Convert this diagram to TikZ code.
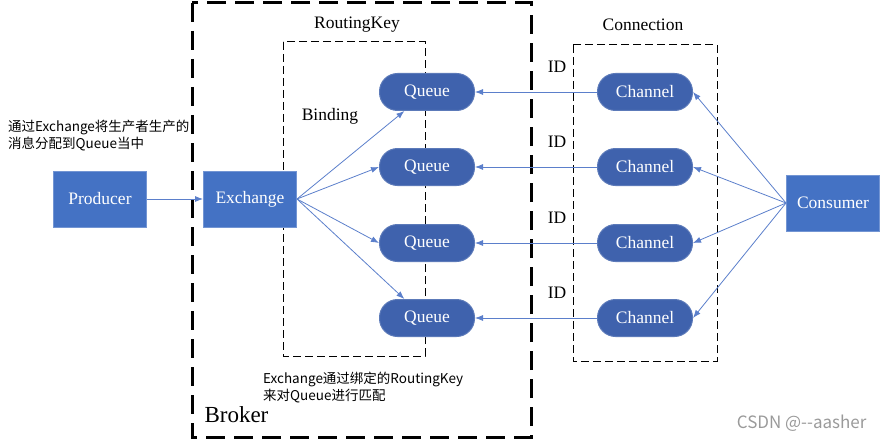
\documentclass[tikz,border=0pt]{standalone}
\usepackage{fontspec}
\setmainfont{Liberation Serif}
\newfontfamily\cjkfont{Noto Sans CJK SC}
\usetikzlibrary{arrows.meta}
\usetikzlibrary{positioning}
\definecolor{boxblue}{HTML}{4472C4}
\definecolor{pillblue}{HTML}{3F62AD}
\definecolor{lineblue}{HTML}{5B7FCB}
\definecolor{markgray}{HTML}{9A9A9A}

\begin{document}
\begin{tikzpicture}[
	x=1pt, y=-1pt,
  > = {Latex[length=8pt,width=6pt]},
  box/.style = {draw=boxblue!75!white,fill=boxblue,text=white,line width=1pt,minimum width=93pt,minimum height=56pt,font=\fontsize{17.5}{18}\selectfont},
  pill/.style = {draw=pillblue!85!white,fill=pillblue,text=white,line width=1pt,rounded corners=18pt,minimum width=95pt,minimum height=37pt,font=\fontsize{17.5}{18}\selectfont},
  tag/.style = {font=\fontsize{17.5}{18}\selectfont},
  note/.style = {font=\cjkfont\fontsize{13.5}{17}\selectfont,align=left,inner sep=0pt},
  link/.style = {draw=lineblue,line width=0.8pt,->},
  brokerbox/.style = {line width=3pt,dash pattern=on 19pt off 9pt},
  groupbox/.style = {line width=1pt,dash pattern=on 8pt off 4pt}
  ]
	\useasboundingbox (0,0) rectangle (883,441);

	\draw[brokerbox] (192,3) rectangle (531,437);
	\draw[groupbox] (283,42) rectangle (425,356);
	\draw[groupbox] (573,45) rectangle (717,361);

	\node[tag] (routingkey) at (357,25) {RoutingKey};
	\node[tag] (connection) at (643,25) {Connection};
	\node[tag] (binding)    at (330,116) {Binding};
	\node[anchor=west,font=\fontsize{23}{24}\selectfont] (broker) at (201,415) {Broker};

	\node[note,anchor=north west] (prodnote) at (8,120) {通过Exchange将生产者生产的\\消息分配到Queue当中};
	\node[note,anchor=north west] (bindnote) at (263,372) {Exchange通过绑定的RoutingKey\\来对Queue进行匹配};
	\node[anchor=east,text=markgray,font=\cjkfont\fontsize{17}{18}\selectfont] (mark) at (870,423) {CSDN @--aasher};

	\node[box] (producer) at (100,199) {Producer};
	\node[box] (exchange) at (250,199) {Exchange};
	\node[box] (consumer) at (833,203) {Consumer};

	\foreach \y [count=\i] in {92,167,243,318} {
		\node[pill] (q\i)  at (427,\y) {Queue};
		\node[pill] (ch\i) at (645,\y) {Channel};
		\node[tag]  (id\i) at (557,\y-25) {ID};
		\draw[link] (ch\i.west) -- (q\i.east);
		\draw[link] (consumer.west) -- (ch\i.east);
	}

	\draw[link] (producer) -- (exchange);
	\draw[link] (exchange.east) -- (q1.220);
	\draw[link] (exchange.east) -- (q2.west);
	\draw[link] (exchange.east) -- (q3.west);
	\draw[link] (exchange.east) -- (q4.140);

\end{tikzpicture}
\end{document}
